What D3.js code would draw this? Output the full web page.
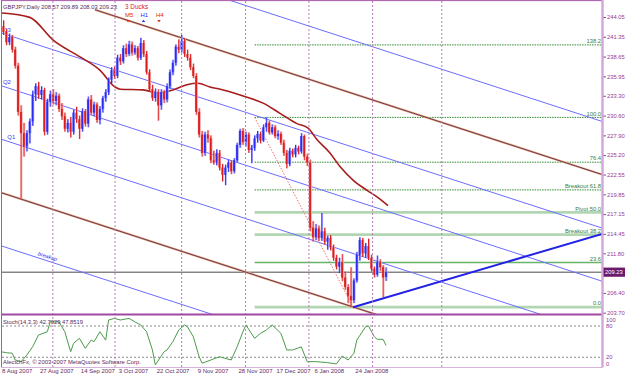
<!DOCTYPE html>
<html>
<head>
<meta charset="utf-8">
<script src="https://cdnjs.cloudflare.com/ajax/libs/d3/7.8.5/d3.min.js"></script>
<style>
  body { margin: 0; background: #fff; }
  svg { display: block; }
  text { font-family: "Liberation Sans", Arial, sans-serif; }
</style>
</head>
<body>
<svg width="625" height="378"></svg>
<script>
// daily bars, [open, high, low, close], bar 0 = 8 Aug 2007
const candles = [
  [242.8,243.6,241.6,242.0],[242.0,242.4,240.2,240.6],[240.6,241.8,240.2,241.3],[241.3,241.6,239.2,239.6],
  [239.6,240.0,237.0,237.4],[237.4,237.8,230.6,231.1],[231.1,232.0,219.3,228.2],[228.2,229.6,225.0,226.4],
  [226.4,228.6,225.7,228.2],[228.2,230.2,226.8,229.8],[229.8,234.0,229.2,233.5],[233.5,235.0,232.6,234.6],
  [234.6,235.2,232.9,233.4],[233.4,234.6,232.8,234.1],[234.1,234.4,227.9,228.4],[228.4,232.9,228.0,232.5],
  [232.5,234.0,231.8,233.5],[233.5,234.2,232.1,232.6],[232.6,233.8,232.0,233.3],[233.3,233.6,231.1,231.5],
  [231.5,232.3,230.0,230.5],[230.5,231.0,228.4,228.8],[228.8,230.1,228.3,229.6],[229.6,230.4,227.6,228.4],
  [228.4,231.4,228.0,231.0],[231.0,231.8,229.6,230.1],[230.1,230.6,227.4,228.8],[228.8,231.6,228.4,231.2],
  [231.2,231.5,229.1,229.5],[229.5,233.2,229.0,232.8],[232.8,233.4,230.7,231.0],[231.0,232.5,230.5,232.1],
  [232.1,232.4,229.6,230.0],[230.0,231.9,229.4,231.5],[231.5,233.3,231.0,233.0],[233.0,234.2,232.5,233.8],
  [233.8,235.8,233.4,235.5],[235.5,237.2,235.0,236.8],[236.8,237.3,235.6,236.0],[236.0,238.9,235.7,238.5],
  [238.5,239.0,237.5,238.0],[238.0,240.2,237.7,239.8],[239.8,240.4,238.6,239.0],[239.0,240.8,238.7,240.3],
  [240.3,240.7,238.8,239.2],[239.2,240.2,238.9,239.8],[239.8,240.1,238.1,238.5],[238.5,241.2,238.2,240.5],
  [240.5,240.9,238.6,239.0],[239.0,239.4,236.2,236.5],[236.5,236.9,233.9,234.2],[234.2,234.8,232.6,233.0],
  [233.0,234.3,232.5,233.8],[233.8,234.2,229.9,232.0],[232.0,234.2,231.4,233.8],[233.8,234.1,232.3,232.8],
  [232.8,235.0,232.4,234.6],[234.6,236.9,234.2,236.5],[236.5,238.2,236.1,237.8],[237.8,240.3,237.4,240.0],
  [240.0,241.0,239.1,239.6],[239.6,241.6,239.2,240.8],[240.8,241.1,238.6,239.0],[239.0,239.6,238.1,238.5],
  [238.5,239.0,236.8,237.2],[237.2,237.7,235.7,236.0],[236.0,236.4,230.7,231.1],[231.1,231.6,227.6,228.0],
  [228.0,228.5,225.0,225.5],[225.5,228.4,225.1,228.0],[228.0,228.6,226.9,227.5],[227.5,227.9,224.1,224.5],
  [224.5,225.8,223.9,224.2],[224.2,226.0,223.8,225.5],[225.5,225.9,223.1,223.5],[223.5,224.0,221.6,222.5],
  [222.5,223.9,221.1,223.5],[223.5,224.6,222.9,224.2],[224.2,224.5,222.6,223.0],[223.0,224.8,222.7,224.5],
  [224.5,226.9,224.2,226.6],[226.6,228.8,226.2,228.5],[228.5,228.9,226.6,227.0],[227.0,228.4,226.4,228.0],
  [228.0,228.3,225.5,225.9],[225.9,226.6,224.1,226.2],[226.2,227.9,225.8,227.5],[227.5,228.5,226.9,228.1],
  [228.1,228.4,226.8,227.2],[227.2,229.4,227.0,229.0],[229.0,230.35,228.4,229.6],[229.6,229.9,228.0,228.3],
  [228.3,229.4,228.0,229.0],[229.0,229.3,227.5,227.8],[227.8,228.6,227.3,228.1],[228.1,228.4,226.6,226.9],
  [226.9,227.3,225.1,225.5],[225.5,225.9,223.4,224.0],[224.0,226.2,223.7,225.8],[225.8,226.1,224.9,225.3],
  [225.3,226.6,224.9,226.2],[226.2,226.5,225.3,225.7],[225.7,228.2,225.4,227.8],[227.8,228.0,224.5,225.0],
  [225.0,225.4,223.7,224.2],[224.2,224.6,214.8,215.3],[215.3,216.2,213.4,214.0],[214.0,215.8,213.6,215.2],
  [215.2,215.6,213.5,213.9],[213.9,217.3,213.5,214.8],[214.8,215.3,213.0,213.4],[213.4,214.2,212.3,213.9],
  [213.9,214.3,212.2,212.6],[212.6,213.0,210.8,211.2],[211.2,211.6,209.6,210.0],[210.0,211.2,209.1,210.6],
  [210.6,211.7,208.0,208.5],[208.5,209.3,206.8,207.2],[207.2,207.6,205.0,206.0],[206.0,209.9,204.45,205.4],
  [205.4,208.4,205.0,208.1],[208.1,212.0,207.8,211.6],[211.6,214.0,210.8,213.6],[213.6,213.9,211.3,211.8],
  [211.8,213.2,211.2,212.8],[212.8,213.8,210.9,211.2],[211.2,211.6,209.3,209.7],[209.7,210.0,208.5,208.9],
  [208.9,211.5,208.6,210.6],[210.6,211.0,209.4,209.9],[209.9,210.2,205.8,208.5],[208.57,209.89,208.03,209.23]
];

// moving average, [bar, price]
const maPoints = [
  [-0.5,244.6],[9,244.0],[17,240.9],[26.2,238.6],[33,236.8],[38.2,234.5],[40,234.2],[47.8,234.1],
  [52.9,233.7],[58,234.1],[62.8,234.8],[66.6,235.0],[70.7,234.5],[75.2,234.1],[83.4,233.1],[88.9,232.3],
  [94.7,230.9],[100.5,229.5],[104.3,228.9],[107.4,227.3],[111.8,225.5],[115.3,223.6],[119.7,221.8],
  [124.5,220.4],[127.9,219.5],[131.7,218.3]
];

// Stoch(14,3,3) main line, [bar, value]
const stochPoints = [
  [-1,30.7],[1,28.8],[3,27.7],[4,14.8],[6,11.6],[8,24.4],[10,40.3],[12,62.7],[15,69],[16,88.2],[19,88],
  [21,69],[23,30.7],[24,46.8],[26,56.4],[28,37.2],[30,53],[31,50],[33,69],[35,53],[36,91.5],[38,94.7],
  [40,91.5],[43,94.7],[45,88],[47,82],[49,69],[51,34],[52,5.3],[55,30.7],[56,34],[58,50],[60,72.3],
  [62,82],[63,78.6],[65,59.5],[67,21.1],[68,8.5],[71,14.8],[74,21],[78,14.8],[80,40],[82,69],[83,82],
  [86,56.4],[88,66],[90,72.3],[92,82],[95,66],[97,34],[99,34],[102,40],[104,11.6],[107,11.6],[111,9.7],
  [114,7.2],[116,22.5],[118,14.8],[120,27.7],[121,53],[124,78.6],[125,80],[127,59.5],[128,54.5],
  [130,54.5],[131,42.7]
];

const priceTicks = [244.05, 241.35, 238.65, 235.95, 233.30, 230.60, 227.90, 225.20, 222.55,
                    219.85, 217.15, 214.45, 211.80, 206.40, 203.70];
const bidPrice = 209.23;
const stochTicks = [100, 80, 20, 0];
const stochLevels = [80, 20];

const dateLabels = ["8 Aug 2007", "27 Aug 2007", "14 Sep 2007", "3 Oct 2007", "22 Oct 2007",
                    "9 Nov 2007", "28 Nov 2007", "17 Dec 2007", "6 Jan 2008", "24 Jan 2008"];
const dateBars = [0, 13, 27, 40, 53, 67, 81, 94, 107, 121];
const monthBars = [16.9, 38.2, 61, 82.9, 104.6, 126.4, 150.1];

// fibonacci from the Dec high to the Jan low (161.8 label sits above the window)
const fibStart = [86, 230.35];
const fibEnd = [119.7, 204.45];
const fibLevels = [0, 23.6, 38.2, 50, 61.8, 76.4, 100, 138.2, 161.8];
const fibNames = ["0.0", "23.6", "Breakout 38.2", "Pivot 50.0", "Breakout 61.8", "76.4", "100.0", "138.2", ""];

// parallel channel lines: start bar, start price, end bar, end price
const channels = [
  { kind: "blue",  b0: -1,   p0: 256.5,  b1: 205, p1: 229.8 },
  { kind: "brown", b0: 31.3, p0: 245.05, b1: 205, p1: 222.55 },
  { kind: "blue",  b0: -1,   p0: 241.9,  b1: 205, p1: 215.25, label: "Q3" },
  { kind: "blue",  b0: -1,   p0: 234.7,  b1: 205, p1: 208.0,  label: "Q2" },
  { kind: "blue",  b0: -1,   p0: 227.4,  b1: 205, p1: 200.75, label: "Q1" },
  { kind: "brown", b0: -1,   p0: 220.1,  b1: 205, p1: 193.45 },
  { kind: "blue",  b0: -1,   p0: 212.85, b1: 205, p1: 186.2,  label: "breakup" }
];
const trendLine = [[119.7, 204.45], [205, 214.45]];

const svg = d3.select("svg");
const plotL = 2, plotR = 602, mainT = 1, mainB = 314, stT = 315.5, stB = 367.5;

const x = d3.scaleLinear().domain([0, 131]).range([3.5, 3.5 + 131 * 2.92]);
const y = d3.scaleLinear().domain([203.70, 244.05]).range([312.7, 17]);
const ys = d3.scaleLinear().domain([0, 100]).range([367.7, 315.6]);

const defs = svg.append("defs");
defs.append("clipPath").attr("id", "clipMain").append("rect")
  .attr("x", plotL).attr("y", mainT).attr("width", plotR - plotL).attr("height", mainB - mainT);
defs.append("clipPath").attr("id", "clipStoch").append("rect")
  .attr("x", plotL).attr("y", stT).attr("width", plotR - plotL).attr("height", stB - stT);

svg.append("rect").attr("width", 625).attr("height", 378).attr("fill", "#fff");

const main = svg.append("g").attr("clip-path", "url(#clipMain)");
const stoch = svg.append("g").attr("clip-path", "url(#clipStoch)");

// month separators through both panels
monthBars.forEach(b => {
  svg.append("line")
    .attr("x1", x(b)).attr("x2", x(b)).attr("y1", mainT).attr("y2", stB)
    .attr("stroke", "#b77cb7").attr("stroke-dasharray", "2,2");
});

// fibo levels
const fibPrice = lv => fibEnd[1] + (fibStart[1] - fibEnd[1]) * lv / 100;
fibLevels.forEach((lv, i) => {
  const py = y(fibPrice(lv));
  const thick = lv === 0 || lv === 38.2 || lv === 50;
  const mid = lv === 23.6;
  main.append("line")
    .attr("x1", x(fibStart[0])).attr("x2", plotR).attr("y1", py).attr("y2", py)
    .attr("stroke", thick ? "#b2d6b2" : mid ? "#68b468" : "#2e8b2e")
    .attr("stroke-width", thick ? 2.8 : mid ? 1.5 : 1)
    .attr("stroke-dasharray", thick || mid ? null : "1.5,1");
  if (fibNames[i]) {
    main.append("text")
      .attr("x", plotR - 1).attr("y", py - 1.8)
      .attr("text-anchor", "end").attr("font-size", 5.8).attr("fill", "#3b7d3b")
      .text(fibNames[i]);
  }
});

// bid line
main.append("line")
  .attr("x1", plotL).attr("x2", plotR).attr("y1", y(bidPrice)).attr("y2", y(bidPrice))
  .attr("stroke", "#4a4a4a").attr("stroke-width", 1);

// channel lines
channels.forEach(c => {
  const pts = [[x(c.b0), y(c.p0)], [x(c.b1), y(c.p1)]];
  if (c.kind === "brown") {
    main.append("line").attr("x1", pts[0][0]).attr("y1", pts[0][1]).attr("x2", pts[1][0]).attr("y2", pts[1][1])
      .attr("stroke", "#eaa870").attr("stroke-width", 2.1);
    main.append("line").attr("x1", pts[0][0]).attr("y1", pts[0][1]).attr("x2", pts[1][0]).attr("y2", pts[1][1])
      .attr("stroke", "#5e2c62").attr("stroke-width", 0.9);
  } else {
    main.append("line").attr("x1", pts[0][0]).attr("y1", pts[0][1]).attr("x2", pts[1][0]).attr("y2", pts[1][1])
      .attr("stroke", "#6c6cff").attr("stroke-width", 1);
  }
});

// channel labels
const priceOn = (c, b) => c.p0 + (c.p1 - c.p0) * (b - c.b0) / (c.b1 - c.b0);
channels.filter(c => c.label && c.label[0] === "Q").forEach(c => {
  const b = c.label === "Q1" ? 1.3 : -0.2;
  main.append("text")
    .attr("x", x(b)).attr("y", y(priceOn(c, b)) - 2)
    .attr("font-size", 6).attr("fill", "#3c3cf0").text(c.label);
});
channels.filter(c => c.label === "breakup").forEach(c => {
  const b = 14.9;
  main.append("text")
    .attr("transform", `translate(${x(b)},${y(priceOn(c, b)) - 2.5}) rotate(18)`)
    .attr("text-anchor", "middle").attr("font-size", 5.5).attr("font-style", "italic")
    .attr("fill", "#2a2af0").text(c.label);
});

// fibo diagonal
main.append("line")
  .attr("x1", x(fibStart[0])).attr("y1", y(fibStart[1]))
  .attr("x2", x(fibEnd[0])).attr("y2", y(fibEnd[1]))
  .attr("stroke", "#f07070").attr("stroke-dasharray", "1.5,1.5");

// moving average
main.append("path")
  .datum(maPoints)
  .attr("d", d3.line().x(d => x(d[0])).y(d => y(d[1])).curve(d3.curveMonotoneX))
  .attr("fill", "none").attr("stroke", "#a81c1c").attr("stroke-width", 1.6);

// candles
const cg = main.append("g");
candles.forEach((c, i) => {
  const [o, h, l, cl] = c;
  const up = cl >= o;
  const dark = up ? "#2b2bf2" : "#dc1c1c";
  const light = up ? "#a3a3ff" : "#f6a2a2";
  const cx = x(i);
  const top = y(Math.max(o, cl)), bot = y(Math.min(o, cl));
  cg.append("line").attr("x1", cx + 0.8).attr("x2", cx + 0.8).attr("y1", y(h)).attr("y2", y(l))
    .attr("stroke", light).attr("stroke-width", 1);
  cg.append("rect").attr("x", cx - 1.4).attr("width", 2.9).attr("y", top).attr("height", Math.max(1, bot - top))
    .attr("fill", light);
  cg.append("line").attr("x1", cx).attr("x2", cx).attr("y1", y(h)).attr("y2", y(l))
    .attr("stroke", dark).attr("stroke-width", 1);
  cg.append("rect").attr("x", cx - 0.9).attr("width", 1.6).attr("y", top).attr("height", Math.max(1, bot - top))
    .attr("fill", dark);
});

// thick trend line off the January low
main.append("line")
  .attr("x1", x(trendLine[0][0])).attr("y1", y(trendLine[0][1]))
  .attr("x2", x(trendLine[1][0])).attr("y2", y(trendLine[1][1]))
  .attr("stroke", "#2222e6").attr("stroke-width", 2);

// header
svg.append("text").attr("x", 3).attr("y", 8.5).attr("font-size", 5.8).attr("fill", "#5a2a5a")
  .text("GBPJPY,Daily 208.57 209.89 208.03 209.23");
svg.append("text").attr("x", 125).attr("y", 8.5).attr("font-size", 6.4).attr("fill", "#e02020").text("3 Ducks");
const ducks = [["M5", 125, "#e02020", false], ["H1", 140.5, "#2b2bf2", true], ["H4", 156, "#e02020", false]];
ducks.forEach(d => {
  svg.append("text").attr("x", d[1]).attr("y", 17.2).attr("font-size", 6).attr("fill", d[2]).text(d[0]);
  const cx = d[1] + 3, cy = 21;
  const p = d[3] ? `M${cx - 1.8},${cy + 1}L${cx + 1.8},${cy + 1}L${cx},${cy - 1.2}Z`
                 : `M${cx - 1.8},${cy - 1}L${cx + 1.8},${cy - 1}L${cx},${cy + 1.3}Z`;
  svg.append("path").attr("d", p).attr("fill", d[2]);
});

// stochastic panel
stochLevels.forEach(v => {
  stoch.append("line").attr("x1", plotL).attr("x2", plotR).attr("y1", ys(v)).attr("y2", ys(v))
    .attr("stroke", "#8c8c8c").attr("stroke-dasharray", "2,2");
});
stoch.append("path")
  .datum(stochPoints)
  .attr("d", d3.line().x(d => x(d[0])).y(d => ys(d[1])))
  .attr("fill", "none").attr("stroke", "#4c9a4c").attr("stroke-width", 1);
svg.append("text").attr("x", 3).attr("y", 324).attr("font-size", 5.8).attr("fill", "#5a2a5a")
  .text("Stoch(14,3,3) 42.7029 47.8519");
svg.append("text").attr("x", 3).attr("y", 364.3).attr("font-size", 5.9).attr("fill", "#5a2a5a")
  .text("AlectchFx, \u00a9 2003-2007 MetaQuotes Software Corp.");

// frame
svg.append("line").attr("x1", 1.5).attr("x2", 1.5).attr("y1", 0).attr("y2", stB)
  .attr("stroke", "#a85aa8").attr("stroke-width", 1);
svg.append("line").attr("x1", plotL).attr("x2", plotR).attr("y1", 0.6).attr("y2", 0.6)
  .attr("stroke", "#a85aa8").attr("stroke-width", 1);
svg.append("line").attr("x1", plotL).attr("x2", plotR + 1).attr("y1", 314.6).attr("y2", 314.6)
  .attr("stroke", "#a04aa4").attr("stroke-width", 2);
svg.append("line").attr("x1", plotL).attr("x2", plotR).attr("y1", stB).attr("y2", stB)
  .attr("stroke", "#d6b4dc").attr("stroke-width", 1);
svg.append("line").attr("x1", plotR + 0.5).attr("x2", plotR + 0.5).attr("y1", 0).attr("y2", stB)
  .attr("stroke", "#d2a6da").attr("stroke-width", 2.4);

// price axis
const axisG = svg.append("g").attr("transform", `translate(${plotR + 1.5},0)`)
  .call(d3.axisRight(y).tickValues(priceTicks).tickFormat(d3.format(".2f")).tickSize(2.5).tickPadding(1));
axisG.select(".domain").remove();
axisG.selectAll(".tick line").attr("stroke", "#9a3c9a");
axisG.selectAll(".tick text").attr("fill", "#933a93").attr("font-size", 5.8)
  .attr("font-family", "Liberation Sans, Arial, sans-serif");

// bid label
svg.append("rect").attr("x", plotR + 1.5).attr("y", y(bidPrice) - 4.6).attr("width", 21.5).attr("height", 9.2)
  .attr("fill", "#6c1a6c");
svg.append("text").attr("x", plotR + 3).attr("y", y(bidPrice)).attr("dy", "0.35em")
  .attr("font-size", 5.8).attr("fill", "#fff").text(d3.format(".2f")(bidPrice));

// stoch axis labels (edge labels kept inside the panel)
stochTicks.forEach(v => {
  const py = Math.max(320, Math.min(363.5, ys(v)));
  svg.append("text").attr("x", plotR + 4).attr("y", py).attr("dy", "0.35em")
    .attr("font-size", 5.8).attr("fill", "#933a93").text(v);
});

// date axis
dateLabels.forEach((t, i) => {
  svg.append("text").attr("x", x(dateBars[i]) - 1.5).attr("y", 373.2)
    .attr("font-size", 6).attr("fill", "#5f2c5f").text(t);
});
</script>
</body>
</html>
